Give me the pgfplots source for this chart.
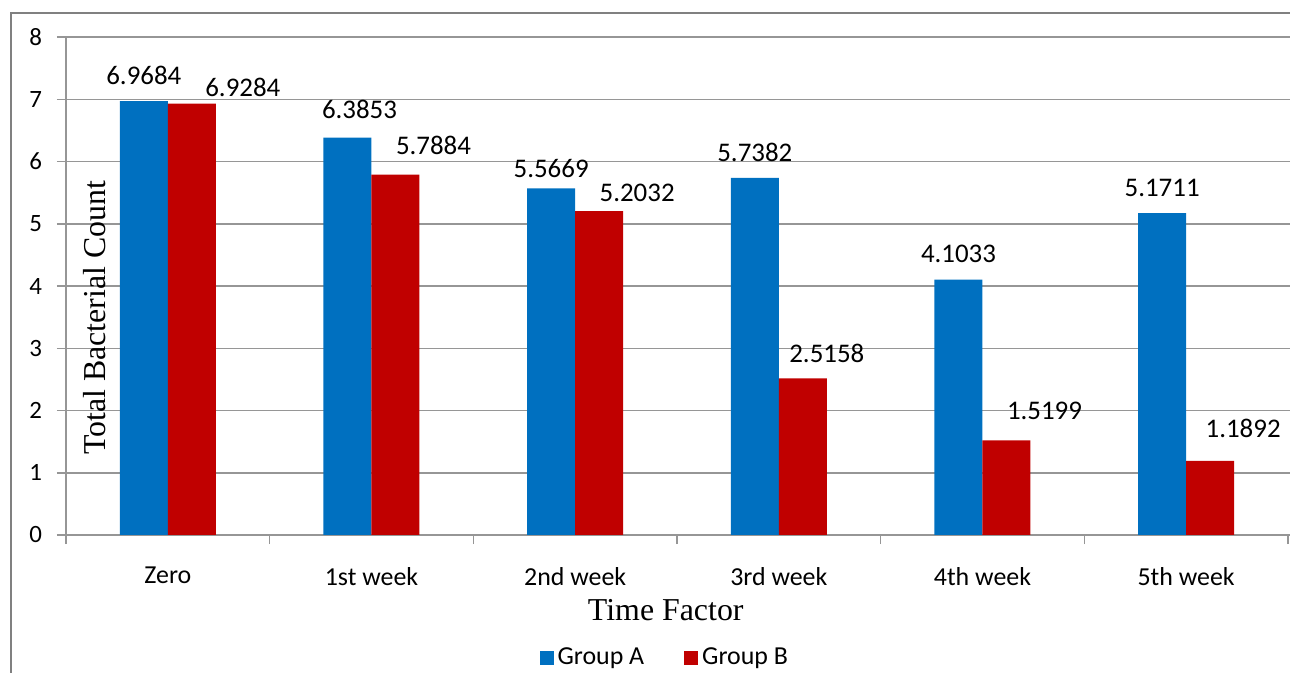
\documentclass[border=0pt]{standalone}
\usepackage{pgfplots}
\pgfplotsset{compat=1.18}
\usepackage{pgfplotstable}
\usepackage{fontspec}
\setmainfont{Carlito}
\newfontfamily\timesfont{Liberation Serif}

\definecolor{grpA}{RGB}{0,112,192}
\definecolor{grpB}{RGB}{192,0,0}
\definecolor{gridgray}{RGB}{150,150,150}
\definecolor{framegray}{RGB}{128,128,128}

% dx, dy = label offsets (bp) as placed in the original chart
\pgfplotstableread{
x y dx dy lab
0 6.9684 0 8 6.9684
1 6.3853 6 9 6.3853
2 5.5669 0 5 5.5669
3 5.7382 0 8 5.7382
4 4.1033 0 8 4.1033
5 5.1711 0 8 5.1711
}\groupA

\pgfplotstableread{
x y dx dy lab
0 6.9284 25.5 3.5 6.9284
1 5.7884 19 10 5.7884
2 5.2032 19 4.5 5.2032
3 2.5158 12 7.5 2.5158
4 1.5199 19 10 1.5199
5 1.1892 16.5 11.5 1.1892
}\groupB

\begin{document}
\begin{tikzpicture}
\useasboundingbox (0,0) rectangle (645bp,336.5bp);
\draw[framegray, line width=1bp] (5.5bp,-2bp) -- (5.5bp,330bp) -- (650bp,330bp);
\begin{axis}[
	at={(33bp,69bp)}, anchor=south west,
	scale only axis, width=612bp, height=249bp,
	ybar=0pt, bar width=24bp,
	xmin=-0.5, xmax=5.51, ymin=0, ymax=8,
	ytick={0,...,8},
	xtick={0,...,5},
	xticklabels={Zero,1st week,2nd week,3rd week,4th week,5th week},
	xtick style={draw=none},
	extra x ticks={-0.5,0.5,1.5,2.5,3.5,4.5,5.5},
	extra x tick labels={},
	extra x tick style={grid=none, xtick style={draw=gridgray, line width=0.75bp}},
	axis x line*=bottom, axis y line*=left,
	axis line style={-, draw=gridgray, line width=0.75bp},
	ymajorgrids,
	grid style={draw=gridgray, line width=0.75bp},
	tick style={draw=gridgray, line width=0.75bp},
	tick align=outside,
	major tick length=4.5bp,
	/pgf/number format/assume math mode=true,
	yticklabel style={font=\fontsize{12.5}{14}\selectfont, xshift=-4bp},
	xticklabel style={font=\fontsize{13}{15}\selectfont, yshift=-8bp},
	xlabel={Time Factor},
	xlabel style={at={(axis description cs:0.49,-0.1506)}, anchor=center,
		font=\timesfont\fontsize{16}{18}\selectfont},
	ylabel={Total Bacterial Count},
	ylabel style={at={(axis description cs:0.0237,0.436)}, anchor=center,
		font=\timesfont\fontsize{16}{18}\selectfont},
	legend style={at={(axis description cs:0.49,-0.247)}, anchor=center,
		draw=none, font=\fontsize{13}{15}\selectfont,
		/tikz/every even column/.append style={column sep=18bp}},
	legend columns=2,
	legend image code/.code={\fill[#1] (0bp,-3.5bp) rectangle (7bp,3.5bp);},
	nodes near coords,
	point meta=explicit symbolic,
	visualization depends on={\thisrow{dx} \as \dx},
	visualization depends on={\thisrow{dy} \as \dy},
	every node near coord/.append style={anchor=south, inner sep=0pt,
		xshift=\dx bp, yshift=\dy bp, font=\fontsize{13.5}{15}\selectfont, text=black},
]
\addplot[fill=grpA, draw=none] table[x=x, y=y, meta=lab] {\groupA};
\addplot[fill=grpB, draw=none] table[x=x, y=y, meta=lab] {\groupB};
\legend{Group A, Group B}
\end{axis}
\end{tikzpicture}
\end{document}
